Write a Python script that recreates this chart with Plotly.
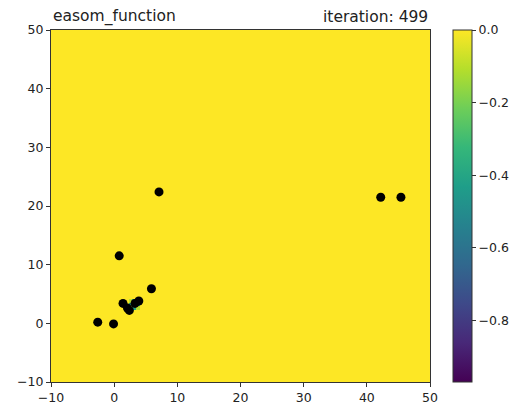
import plotly.graph_objects as go

# Heatmap cells (edges) - flat zero surface with the dip near (pi, pi)
grid_x_edges = [-10, 2.3, 2.9, 3.5, 4.1, 50]
grid_y_edges = [-10, 2.3, 2.9, 3.5, 4.1, 50]
grid_z = [
    [0.0, 0.0, 0.0, 0.0, 0.0],
    [0.0, -0.10, -0.40, -0.10, 0.0],
    [0.0, -0.40, -0.97, -0.40, 0.0],
    [0.0, -0.10, -0.40, -0.10, 0.0],
    [0.0, 0.0, 0.0, 0.0, 0.0],
]

# Particle positions at iteration 499
pts_x = [7.1, 42.2, 45.4, 0.8, 5.9, -2.6, -0.1, 1.4, 2.4, 3.3, 3.9, 2.1]
pts_y = [22.4, 21.5, 21.5, 11.5, 5.9, 0.2, -0.1, 3.4, 2.2, 3.4, 3.8, 2.6]

x_ticks = [-10, 0, 10, 20, 30, 40, 50]
y_ticks = [-10, 0, 10, 20, 30, 40, 50]
cb_ticks = [0.0, -0.2, -0.4, -0.6, -0.8]

font = dict(family="DejaVu Sans", size=12.5, color="#222222")

W, H = 519, 405
ML, MR, MT, MB = 51, 0, 30, 23
paper_w = W - ML - MR
plot_right_px = 430
cb_left_px = 453

fig = go.Figure()
fig.add_trace(go.Heatmap(
    x=grid_x_edges, y=grid_y_edges, z=grid_z,
    colorscale="Viridis", zmin=-0.97, zmax=0.0,
    colorbar=dict(
        x=(cb_left_px - ML) / paper_w, xanchor="left", xref="paper",
        y=0, yanchor="bottom", len=1, lenmode="fraction",
        xpad=0, ypad=0,
        thickness=19, thicknessmode="pixels",
        outlinecolor="#333333", outlinewidth=1,
        tickvals=cb_ticks, tickformat=".1f",
        ticks="outside", ticklen=4, tickcolor="#333333",
        tickfont=font,
    ),
    hoverinfo="skip",
))
fig.add_trace(go.Scatter(
    x=pts_x, y=pts_y, mode="markers",
    marker=dict(color="black", size=9),
    showlegend=False,
))

axis_common = dict(
    showline=True, linecolor="#333333", linewidth=1, mirror=True,
    ticks="outside", ticklen=4, tickcolor="#333333",
    showgrid=False, zeroline=False, tickfont=font, automargin=False,
)
fig.update_xaxes(range=[-10, 50], tickvals=x_ticks,
                 domain=[0, (plot_right_px - ML) / paper_w], **axis_common)
fig.update_yaxes(range=[-10, 50], tickvals=y_ticks, **axis_common)

title_font = dict(family="DejaVu Sans", size=15.5, color="#222222")
fig.update_layout(
    width=W, height=H,
    margin=dict(l=ML, r=MR, t=MT, b=MB, pad=0),
    paper_bgcolor="white", plot_bgcolor="white",
    font=font,
    showlegend=False,
    annotations=[
        dict(text="easom_function", xref="x domain", yref="paper", x=0, y=1,
             xanchor="left", yanchor="bottom", yshift=2, showarrow=False,
             font=title_font),
        dict(text="iteration: 499", xref="x domain", yref="paper", x=1, y=1,
             xanchor="right", yanchor="bottom", yshift=2, showarrow=False,
             font=title_font),
    ],
)

fig.write_html(
    "out.html",
    config={"displayModeBar": False},
    post_script="document.body.style.margin='0';document.body.style.overflow='hidden';",
)
